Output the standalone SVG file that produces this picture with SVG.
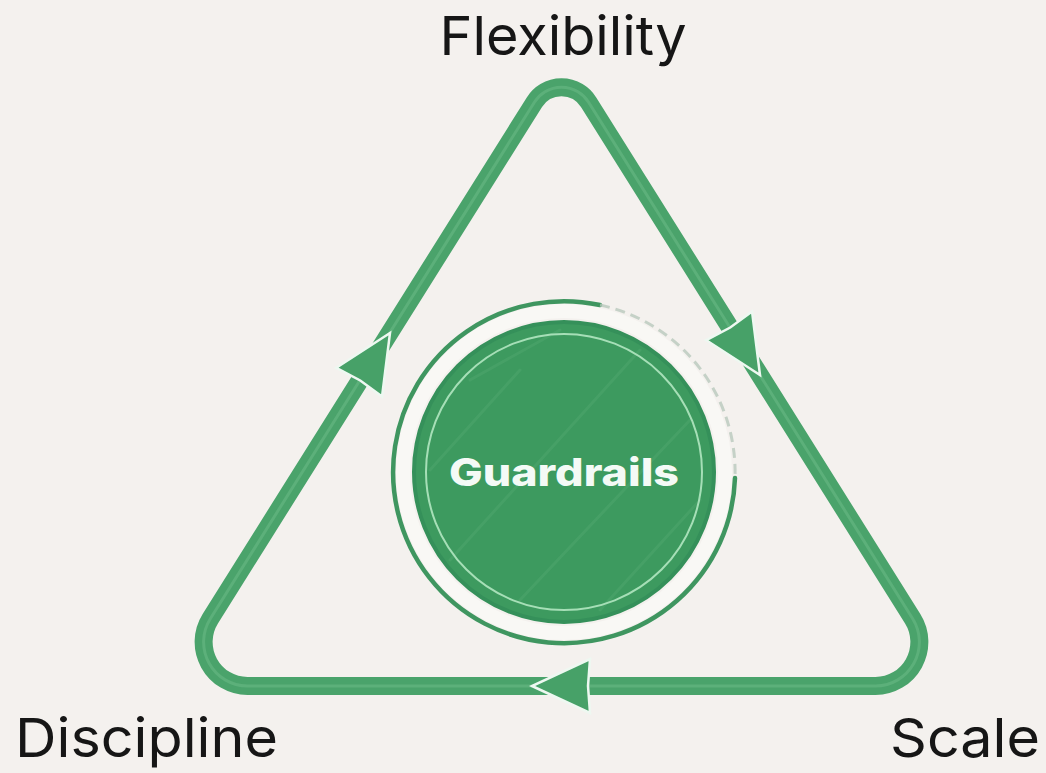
<svg xmlns="http://www.w3.org/2000/svg" width="1046" height="773" viewBox="0 0 1046 773">
  <style>
    .label { font-family: "Inter", "Noto Sans", "Liberation Sans", sans-serif; font-size: 54px; fill: #161616; }
    .core { font-family: "Inter", "Noto Sans", "Liberation Sans", sans-serif; font-size: 38px; font-weight: 800; fill: #f4faf6; }
    .loop { fill: none; stroke: #4aa36b; stroke-width: 18; stroke-linejoin: round; }
    .loop-shine { fill: none; stroke: #78c392; stroke-width: 3; opacity: 0.4; }
    .head { fill: #47a168; stroke: #eef8f1; stroke-width: 2.5; stroke-linejoin: miter; }
    .streak { fill: none; stroke: #6dbb88; stroke-width: 3; stroke-linecap: round; opacity: 0.18; }
  </style>
  <defs>
    <!-- arrowhead pointing along +x, tip at the origin -->
    <path id="arrowhead" d="M 0 0 L -58 -27 L -56 0 L -58 27 Z"/>
    <clipPath id="disk-clip">
      <circle cx="564" cy="472" r="148"/>
    </clipPath>
  </defs>

  <rect width="1046" height="773" fill="#f4f1ee"/>

  <!-- cycle: rounded triangle with direction arrows -->
  <g id="connectors">
    <path class="loop" d="M 534.4 102.2 A 32 32 0 0 1 588.6 102.2 L 912.7 618.7 A 44 44 0 0 1 875.5 686 L 247.5 686 A 44 44 0 0 1 210.3 618.7 Z"/>
    <path class="loop-shine" d="M 534.4 102.2 A 32 32 0 0 1 588.6 102.2 L 912.7 618.7 A 44 44 0 0 1 875.5 686 L 247.5 686 A 44 44 0 0 1 210.3 618.7 Z"/>
    <use href="#arrowhead" class="head" transform="translate(390 333) rotate(-57.9)"/>
    <use href="#arrowhead" class="head" transform="translate(760 375) rotate(57.9)"/>
    <use href="#arrowhead" class="head" transform="translate(532 686) rotate(180)"/>
  </g>

  <g id="node-flexibility">
    <text class="label" x="563" y="55" text-anchor="middle" textLength="247" lengthAdjust="spacingAndGlyphs">Flexibility</text>
  </g>
  <g id="node-discipline">
    <text class="label" x="15" y="757" textLength="263" lengthAdjust="spacingAndGlyphs">Discipline</text>
  </g>
  <g id="node-scale">
    <text class="label" x="890" y="757" textLength="150" lengthAdjust="spacingAndGlyphs">Scale</text>
  </g>

  <g id="node-guardrails">
    <!-- pale halo between disk and outer ring -->
    <circle cx="564" cy="472" r="161" fill="none" stroke="#f9f8f5" stroke-width="14"/>
    <!-- outer ring, faded over the upper right -->
    <path d="M 735 478 A 171 171 0 1 1 600 305" fill="none" stroke="#3f9660" stroke-width="4.5" stroke-linecap="round"/>
    <path d="M 600 305 A 171 171 0 0 1 735 478" fill="none" stroke="#b9c9bd" stroke-width="3" stroke-dasharray="10 6" opacity="0.8"/>
    <!-- disk with faint chalk streaks -->
    <circle cx="564" cy="472" r="150" fill="#3d9a5f" stroke="#35905a" stroke-width="4"/>
    <g clip-path="url(#disk-clip)">
      <path class="streak" d="M 470 380 L 560 330 M 450 560 L 640 350 M 520 600 L 690 420 M 600 610 L 700 500 M 430 470 L 520 370"/>
    </g>
    <circle cx="564" cy="472" r="138" fill="none" stroke="#a6dfb7" stroke-width="2"/>
    <text class="core" x="564" y="486" text-anchor="middle" textLength="230" lengthAdjust="spacingAndGlyphs">Guardrails</text>
  </g>
</svg>
